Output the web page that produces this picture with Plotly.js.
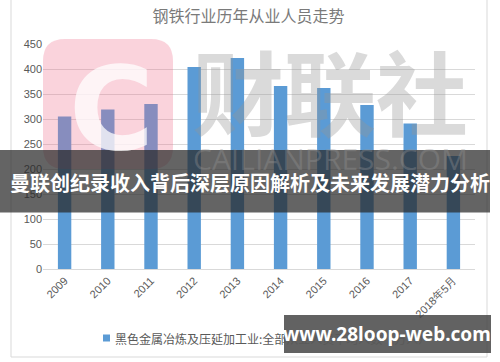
<!DOCTYPE html>
<html>
<head>
<meta charset="utf-8">
<script src="https://cdn.plot.ly/plotly-3.0.1.min.js"></script>
<style>html,body{margin:0;padding:0;background:#fff;}#chart{width:500px;height:362px;}</style>
</head>
<body>
<div id="chart"></div>
<script>
var categories = ["2009","2010","2011","2012","2013","2014","2015","2016","2017","2018年5月"];
var employees = [305, 319, 330, 404, 422, 366, 362, 328, 291, 226];
var yTicks = [0, 50, 100, 150, 200, 250, 300, 350, 400, 450];
var seriesName = "黑色金属冶炼及压延加工业:全部从业人员平均人数（万人）";
var chartTitle = "钢铁行业历年从业人员走势";
var bannerText = "曼联创纪录收入背后深层原因解析及未来发展潜力分析";
var siteText = "www.28loop-web.com";

var L = 43, R = 475, T = 44, B = 269;
function px(x){ return (x - L) / (R - L); }
function py(y){ return (B - y) / (B - T); }

var cjk = "'Noto Sans CJK SC', 'Noto Sans', sans-serif";
var barColor = "#5b9bd5";

var trace = {
  type: "bar",
  x: categories,
  y: employees,
  name: seriesName,
  marker: {color: barColor},
  showlegend: false
};

var shapes = [
  // chart outer frame
  {type:"rect", xref:"paper", yref:"paper", x0:px(11), x1:px(487), y0:py(357), y1:py(-5), line:{color:"#d9d9d9", width:1}, layer:"below"},
  // legend key
  {type:"rect", xref:"paper", yref:"paper", x0:px(103), x1:px(110), y0:py(341.5), y1:py(334.5), line:{width:0}, fillcolor:barColor, layer:"above"},
  // pink logo square
  {type:"path", xref:"paper", yref:"paper", layer:"above", line:{width:0}, fillcolor:"rgba(238,110,140,0.3)",
   path: (function(){
     var x0=43,x1=173,y0=39,y1=169,r=22;
     function P(x,y){ return px(x)+","+py(y); }
     return "M"+P(x0+r,y0)+" L"+P(x1-r,y0)+" Q"+P(x1,y0)+" "+P(x1,y0+r)+" L"+P(x1,y1-r)+" Q"+P(x1,y1)+" "+P(x1-r,y1)+
            " L"+P(x0+r,y1)+" Q"+P(x0,y1)+" "+P(x0,y1-r)+" L"+P(x0,y0+r)+" Q"+P(x0,y0)+" "+P(x0+r,y0)+" Z";
   })()},
  // dark banner
  {type:"rect", xref:"paper", yref:"paper", layer:"above", x0:px(0), x1:px(490), y0:py(212.5), y1:py(150), line:{width:0}, fillcolor:"rgba(40,40,40,0.72)"},
  // website box
  {type:"rect", xref:"paper", yref:"paper", layer:"above", x0:px(284), x1:px(491), y0:py(353), y1:py(315), line:{width:0}, fillcolor:"rgba(70,70,70,0.85)"}
];

var annotations = [
  {text:"C", xref:"paper", yref:"paper", x:px(111), y:py(108), xanchor:"center", yanchor:"middle", showarrow:false,
   font:{family:"'DejaVu Sans', sans-serif", size:116, color:"rgba(255,255,255,0.75)", weight:"bold"}},
  {text:"财联社", xref:"paper", yref:"paper", x:px(330), y:py(88), xanchor:"center", yanchor:"middle", showarrow:false,
   font:{family:cjk, size:92, color:"rgba(150,150,150,0.35)", weight:"bold"}},
  {text:"CAILIANPRESS.COM", xref:"paper", yref:"paper", x:px(330), y:py(158), xanchor:"center", yanchor:"middle", showarrow:false,
   font:{family:"'Open Sans', sans-serif", size:30, color:"rgba(150,150,150,0.35)"}},
  {text:seriesName, xref:"paper", yref:"paper", x:px(113), y:py(338), xanchor:"left", yanchor:"middle", showarrow:false,
   font:{family:cjk, size:12, color:"#595959"}},
  {text:bannerText, xref:"paper", yref:"paper", x:px(250), y:py(182), xanchor:"center", yanchor:"middle", showarrow:false,
   font:{family:cjk, size:20, color:"#ffffff", weight:"bold"}},
  {text:siteText, xref:"paper", yref:"paper", x:px(387), y:py(334), xanchor:"center", yanchor:"middle", showarrow:false,
   font:{family:"'Noto Sans', sans-serif", size:19, color:"#ffffff", weight:"bold"}}
];

var layout = {
  width: 500, height: 362,
  margin: {l: L, r: 500 - R, t: T, b: 362 - B},
  paper_bgcolor: "#ffffff",
  plot_bgcolor: "#ffffff",
  title: {text: chartTitle, x: 0.497, xanchor: "center", y: 0.955, yanchor: "middle",
          font: {family: cjk, size: 16, color: "#7a7a7a"}},
  bargap: 0.69,
  xaxis: {
    type: "category",
    tickangle: -45,
    tickfont: {family: "'Liberation Sans', sans-serif", size: 11, color: "#595959"},
    showline: true, linecolor: "#d9d9d9", linewidth: 1,
    ticks: "", showgrid: false, fixedrange: true
  },
  yaxis: {
    range: [0, 450],
    tickvals: yTicks,
    tickfont: {family: "'Liberation Sans', sans-serif", size: 11, color: "#595959"},
    gridcolor: "#d9d9d9", gridwidth: 1,
    zeroline: false, showline: false, ticks: "", fixedrange: true
  },
  showlegend: false,
  shapes: shapes,
  annotations: annotations
};

Plotly.newPlot("chart", [trace], layout, {displayModeBar: false, staticPlot: true});
</script>
</body>
</html>
